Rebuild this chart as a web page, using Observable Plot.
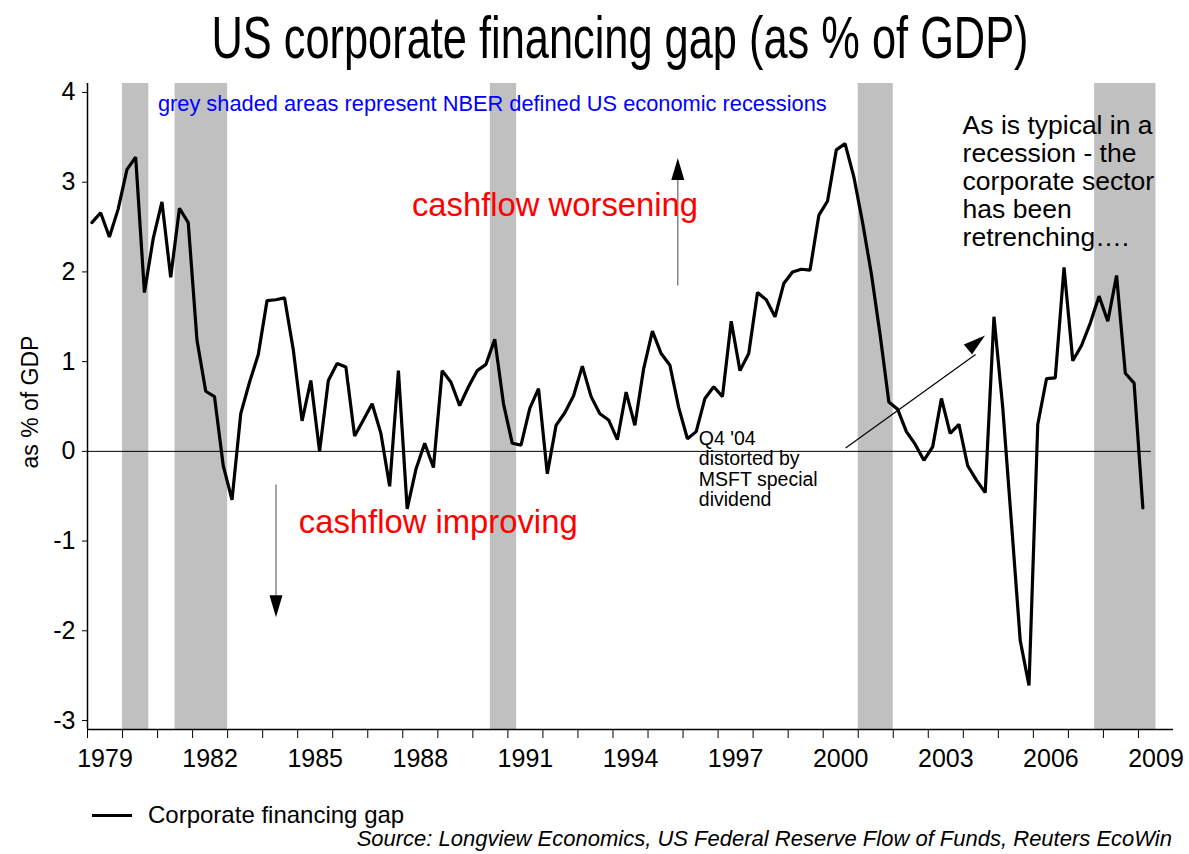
<!DOCTYPE html>
<html>
<head>
<meta charset="utf-8">
<script src="https://cdn.jsdelivr.net/npm/d3@7"></script>
<script src="https://cdn.jsdelivr.net/npm/@observablehq/plot@0.6"></script>
<style>
  html, body { margin: 0; padding: 0; background: #fff; }
  #wrap { position: relative; width: 1189px; height: 854px; overflow: hidden; font-family: "Liberation Sans", Arial, sans-serif; color: #000; }
  #title { position: absolute; left: 620px; top: 9px; font-size: 59px; line-height: 1; white-space: nowrap; transform: translateX(-50%) scaleX(0.735); }
  #chart { position: absolute; left: 0; top: 75px; }
  #legend { position: absolute; left: 92px; top: 803px; height: 24px; display: flex; align-items: center; font-size: 24px; line-height: 1; white-space: nowrap; }
  #legend .swatch { width: 40px; height: 3px; background: #000; margin-right: 16px; }
  #source { position: absolute; right: 17px; top: 828px; font-size: 22px; line-height: 1; font-style: italic; white-space: nowrap; }
</style>
</head>
<body>
<div id="wrap">
  <div id="title">US corporate financing gap (as % of GDP)</div>
  <div id="chart"></div>
  <div id="legend"><span class="swatch"></span><span>Corporate financing gap</span></div>
  <div id="source">Source: Longview Economics, US Federal Reserve Flow of Funds, Reuters EcoWin</div>
</div>
<script>
// ---- Data (quarterly, 1979Q1 .. 2009Q1), % of GDP ----
const startYear = 1979;
const gap = [
  2.55, 2.66, 2.39, 2.70,
  3.14, 3.28, 1.77, 2.37,
  2.78, 1.94, 2.71, 2.55,
  1.24, 0.67, 0.61, -0.16,
  -0.54, 0.42, 0.77, 1.08,
  1.68, 1.69, 1.71, 1.13,
  0.34, 0.79, 0.00, 0.79,
  0.98, 0.94, 0.17, 0.35,
  0.53, 0.20, -0.39, 0.90,
  -0.64, -0.20, 0.09, -0.18,
  0.90, 0.77, 0.51, 0.72,
  0.90, 0.97, 1.25, 0.53,
  0.09, 0.07, 0.48, 0.70,
  -0.25, 0.29, 0.43, 0.62,
  0.95, 0.61, 0.42, 0.35,
  0.13, 0.66, 0.29, 0.92,
  1.34, 1.09, 0.96, 0.49,
  0.14, 0.22, 0.59, 0.72,
  0.61, 1.45, 0.90, 1.09,
  1.77, 1.69, 1.50, 1.87,
  2.00, 2.03, 2.02, 2.63,
  2.79, 3.36, 3.43, 3.06,
  2.55, 1.98, 1.30, 0.55,
  0.47, 0.22, 0.08, -0.10,
  0.05, 0.59, 0.20, 0.30,
  -0.16, -0.32, -0.46, 1.50,
  0.49, -0.80, -2.11, -2.61,
  0.30, 0.81, 0.82, 2.05,
  1.01, 1.18, 1.43, 1.73,
  1.45, 1.96, 0.87, 0.76,
  -0.63
];

// NBER recessions (quarter boundaries, decimal years)
const recessionStart = [1980.0, 1981.5, 1990.5, 2001.0, 2007.75];
const recessionEnd   = [1980.75, 1983.0, 1991.25, 2002.0, 2009.5];

// Axis ticks
const yTicks = [-3, -2, -1, 0, 1, 2, 3, 4];
const yearTicks = d3.range(1979, 2010);
const labelYears = [1979, 1982, 1985, 1988, 1991, 1994, 1997, 2000, 2003, 2006, 2009];

// Annotation texts
const noteBlue = "grey shaded areas represent NBER defined US economic recessions";
const noteWorse = "cashflow worsening";
const noteBetter = "cashflow improving";
const noteMsft = "Q4 '04\ndistorted by\nMSFT special\ndividend";
const noteRecession = "As is typical in a\nrecession - the\ncorporate sector\nhas been\nretrenching….";
const yLabel = "as % of GDP";

// ---- Build tables ----
const series = gap.map((v, i) => ({ t: startYear + (i + 0.5) / 4, v }));
const recessions = recessionStart.map((s, i) => ({ start: s, end: recessionEnd[i] }));

const F = "Liberation Sans, Arial, sans-serif";

// elongated filled arrow-head, tip at origin, pointing up
const headSymbol = { draw(ctx) { ctx.moveTo(0, 0); ctx.lineTo(-6.5, 22); ctx.lineTo(6.5, 22); ctx.closePath(); } };

const arrows = [
  { x1: 1995.85, y1: 1.85, x2: 1995.85, y2: 3.10, tx: 1995.85, ty: 3.27, rot: 0, col: "#666" },
  { x1: 1984.38, y1: -0.37, x2: 1984.38, y2: -1.70, tx: 1984.38, ty: -1.85, rot: 180, col: "#666" },
  { x1: 2000.64, y1: 0.037, x2: 2004.35, y2: 1.08, tx: 2004.62, ty: 1.29, rot: 51, col: "#000" }
];

const chart = Plot.plot({
  width: 1189,
  height: 715,
  marginLeft: 87,
  marginRight: 16,
  marginTop: 8,
  marginBottom: 61,
  x: { domain: [1979, 2010] },
  y: { domain: [-3.1, 4.1] },
  style: { fontFamily: F, fontSize: "25px", color: "#000", background: "transparent", overflow: "visible" },
  marks: [
    Plot.rect(recessions, { x1: "start", x2: "end", fill: "#c0c0c0" }),
    Plot.ruleY([{ y: 0, a: 1979, b: 2009.37 }], { y: "y", x1: "a", x2: "b", stroke: "#000", strokeWidth: 1 }),
    Plot.ruleX([1979], { stroke: "#000", strokeWidth: 1.5 }),
    Plot.ruleY([-3.1], { stroke: "#000", strokeWidth: 1.5 }),
    Plot.axisY({ ticks: yTicks, tickSize: 5, tickPadding: 7, label: null, fontSize: 25, tickFormat: d => d < 0 ? "-" + Math.abs(d) : String(d) }),
    Plot.axisX({ ticks: yearTicks, tickSize: 9, tickFormat: () => "", label: null }),
    Plot.axisX({ ticks: labelYears.map(y => y + 0.5), tickSize: 0, tickPadding: 20, label: null, fontSize: 25, tickFormat: d => String(Math.floor(d)) }),
    Plot.line(series, { x: "t", y: "v", stroke: "#000", strokeWidth: 3.2, strokeLinejoin: "miter" }),
    // arrows
    Plot.link(arrows, { x1: "x1", y1: "y1", x2: "x2", y2: "y2", stroke: "col", strokeWidth: 1.2 }),
    Plot.dot(arrows, { x: "tx", y: "ty", symbol: headSymbol, fill: "#000", stroke: null, rotate: "rot", r: 5 }),
    // annotations
    Plot.text([noteBlue], { x: 1981.01, y: 3.87, text: d => d, textAnchor: "start", lineAnchor: "middle", fill: "#0000ff", fontSize: 21.8 }),
    Plot.text([noteWorse], { x: 1988.26, y: 2.74, text: d => d, textAnchor: "start", lineAnchor: "middle", fill: "#ff0000", fontSize: 32.8 }),
    Plot.text([noteBetter], { x: 1985.03, y: -0.79, text: d => d, textAnchor: "start", lineAnchor: "middle", fill: "#ff0000", fontSize: 32.8 }),
    Plot.text([noteMsft], { x: 1996.45, y: -0.195, text: d => d, textAnchor: "start", lineAnchor: "middle", fill: "#000", fontSize: 19.5, lineHeight: 1.05 }),
    Plot.text([noteRecession], { x: 2003.98, y: 3.01, text: d => d, textAnchor: "start", lineAnchor: "middle", fill: "#000", fontSize: 26.5, lineHeight: 1.06 }),
    Plot.text([yLabel], { y: 0.55, frameAnchor: "left", dx: -57, rotate: -90, text: d => d, textAnchor: "middle", lineAnchor: "middle", fill: "#000", fontSize: 23 })
  ]
});
document.getElementById("chart").appendChild(chart);
</script>
</body>
</html>
